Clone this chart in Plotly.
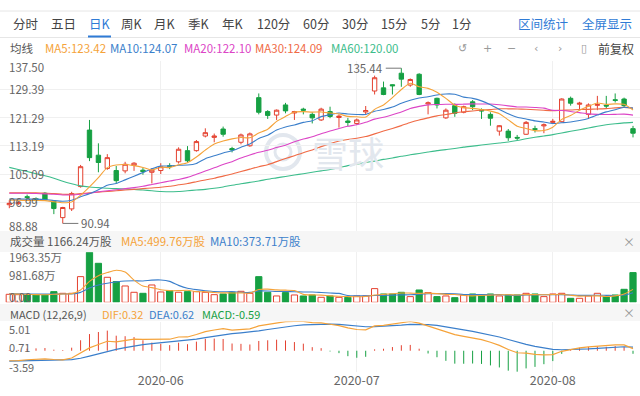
import plotly.graph_objects as go

# ---------------- data ----------------
dates_idx = list(range(71))
month_ticks = [17, 39, 61]
month_labels = ["2020-06", "2020-07", "2020-08"]

opens = [96.3, 96.6, 98.6, 98.0, 99.6, 97.3, 92.6, 95.1, 101.5, 117.7,
         110.5, 106.7, 106.1, 106.0, 107.6, 106.2, 105.6, 106.1, 107.5, 108.6,
         111.8, 111.8, 116.0, 115.6, 118.0, 112.4, 114.2, 113.2, 127.0, 123.0,
         122.0, 124.9, 122.6, 123.7, 122.2, 120.6, 123.0, 121.3, 120.3, 119.6,
         122.9, 128.9, 129.8, 130.7, 134.0, 130.6, 133.7, 125.2, 126.8, 121.2,
         124.7, 122.8, 125.8, 123.5, 122.2, 117.4, 117.4, 115.6, 116.5, 118.1,
         118.9, 119.9, 120.1, 126.8, 125.1, 122.2, 124.8, 124.8, 126.4, 126.6,
         118.1]
highs = [97.6, 97.5, 99.2, 98.4, 99.9, 97.6, 95.7, 100.0, 107.7, 120.6,
         113.9, 110.8, 107.4, 108.6, 108.5, 106.8, 106.8, 108.2, 108.2, 112.75,
         113.1, 114.85, 118.2, 116.7, 118.7, 112.9, 116.7, 117.0, 128.2, 123.4,
         123.6, 125.5, 123.2, 124.1, 122.8, 124.1, 124.4, 122.2, 121.2, 121.0,
         124.6, 133.3, 131.6, 130.8, 135.44, 132.5, 134.0, 125.9, 127.0, 123.9,
         125.35, 124.7, 126.3, 123.9, 122.8, 119.1, 118.0, 116.3, 120.3, 118.95,
         119.6, 120.9, 126.8, 127.3, 125.8, 125.35, 127.5, 127.5, 128.2, 127.0,
         118.9]
lows = [95.3, 96.2, 97.8, 97.2, 97.4, 93.6, 90.94, 94.5, 101.2, 108.8,
        105.6, 106.3, 102.4, 105.3, 106.0, 104.9, 102.4, 105.1, 106.5, 108.1,
        108.4, 111.5, 115.6, 114.2, 115.8, 111.3, 113.6, 112.9, 122.2, 120.9,
        120.6, 122.5, 120.6, 122.2, 119.6, 120.3, 121.1, 118.4, 118.8, 119.2,
        122.0, 127.9, 127.7, 127.9, 130.1, 130.1, 127.7, 122.2, 123.9, 120.9,
        121.5, 122.5, 123.4, 120.9, 118.95, 116.1, 114.6, 114.8, 116.3, 117.0,
        116.8, 119.6, 119.9, 124.7, 123.4, 120.9, 123.4, 123.9, 125.6, 124.1,
        115.6]
closes = [96.7, 96.9, 98.4, 97.6, 97.7, 95.2, 95.5, 99.5, 107.2, 109.8,
          108.4, 109.8, 103.2, 107.9, 108.2, 105.8, 106.2, 107.2, 107.3, 112.2,
          108.9, 114.4, 116.95, 116.0, 116.5, 112.0, 116.3, 116.6, 122.8, 121.9,
          123.4, 123.2, 123.0, 123.4, 121.2, 123.7, 121.6, 121.7, 119.9, 120.6,
          123.3, 132.7, 127.9, 130.4, 132.3, 132.2, 127.9, 125.5, 124.9, 123.4,
          122.5, 124.4, 124.4, 123.2, 121.1, 118.95, 115.5, 115.4, 119.9, 117.9,
          119.2, 120.2, 126.6, 125.4, 125.4, 124.9, 125.0, 124.6, 126.2, 124.7,
          116.8]
# volume, 万股
volumes = [314, 300, 288, 288, 288, 419, 353, 353, 1008, 1963.35,
           1531, 982, 812, 641, 393, 353, 680, 406, 458, 393,
           419, 419, 393, 300, 327, 393, 432, 353, 1008, 393,
           249, 380, 288, 249, 288, 196, 249, 196, 196, 249,
           249, 537, 327, 327, 393, 223, 484, 380, 223, 249,
           183, 288, 327, 288, 327, 249, 288, 288, 353, 327,
           223, 327, 353, 157, 157, 249, 353, 223, 288, 510,
           1166.24]

# moving-average values at the left edge (window reaches before the visible range)
ma5_head = [97.6, 97.6, 97.5, 97.5]
ma10_head = [97.9, 97.9, 97.9, 97.9, 97.8, 97.5, 97.3, 97.6, 98.6]
ma20_head = [99.6, 99.6, 99.6, 99.5, 99.4, 99.3, 99.1, 99.1, 99.3, 99.6,
             100.0, 100.3, 100.6, 100.9, 101.2, 101.6, 102.1, 102.6, 103.1]
ma30_head = [99.7, 99.7, 99.7, 99.7, 99.6, 99.5, 99.3, 99.3, 99.5, 99.7,
             99.9, 100.1, 100.3, 100.5, 100.7, 100.9, 101.1, 101.3, 101.6, 102.0,
             102.4, 102.9, 103.4, 103.9, 104.5, 105.1, 105.8, 106.5, 107.2]
ma60_head = [107.0, 106.4, 105.8, 105.2, 104.6, 103.9, 103.0, 102.3, 101.7, 101.4,
             101.2, 101.0, 100.9, 100.8, 100.7, 100.5, 100.3, 100.1, 100.0, 100.1,
             100.3, 100.5, 100.7, 101.0, 101.4, 101.9, 102.3, 102.7, 103.1, 103.6,
             104.0, 104.4, 104.8, 105.2, 105.6, 106.0, 106.4, 106.9, 107.5, 107.9,
             108.4, 108.8, 109.3, 109.7, 110.2, 110.6, 111.0, 111.4, 111.8, 112.1,
             112.4, 112.8, 113.1, 113.4, 113.7, 114.0, 114.3, 114.7, 115.2]
vma5_head = [330, 320, 310, 300]
vma10_head = [340, 335, 330, 325, 320, 320, 325, 330, 390]
# MACD state just before the first visible day
ema12_prev, ema26_prev, dea_prev = 98.5, 100.2, -1.8

price_ticks = [88.88, 96.99, 105.09, 113.19, 121.29, 129.39, 137.50]
price_tick_text = ["88.88", "96.99", "105.09", "113.19", "121.29", "129.39", "137.50"]
vol_ticks = [0, 981.68, 1963.35]
vol_tick_text = ["0.00", "981.68万", "1963.35万"]
macd_ticks = [-3.59, 0.71, 5.01]
macd_tick_text = ["-3.59", "0.71", "5.01"]

ma_legend = ["MA5:123.42", "MA10:124.07", "MA20:122.10", "MA30:124.09", "MA60:120.00"]
vol_legend = ["成交量 1166.24万股", "MA5:499.76万股", "MA10:373.71万股"]
macd_legend = ["MACD (12,26,9)", "DIF:0.32", "DEA:0.62", "MACD:-0.59"]

tabs = ["分时", "五日", "日K", "周K", "月K", "季K", "年K", "120分", "60分", "30分", "15分", "5分", "1分"]
tab_x = [26, 63, 99.5, 132, 165, 199, 233, 273, 316, 355, 394, 430, 461]

# ---------------- derived series ----------------
def moving(vals, n, head):
    out = list(head)
    for i in range(len(head), len(vals)):
        out.append(sum(vals[i - n + 1:i + 1]) / n)
    return out

ma5 = moving(closes, 5, ma5_head)
ma10 = moving(closes, 10, ma10_head)
ma20 = moving(closes, 20, ma20_head)
ma30 = moving(closes, 30, ma30_head)
ma60 = moving(closes, 60, ma60_head)
vma5 = moving(volumes, 5, vma5_head)
vma10 = moving(volumes, 10, vma10_head)

dif, dea, hist = [], [], []
e12, e26, d9 = ema12_prev, ema26_prev, dea_prev
for c in closes:
    e12 = e12 * 11 / 13 + c * 2 / 13
    e26 = e26 * 25 / 27 + c * 2 / 27
    d = e12 - e26
    d9 = d9 * 8 / 10 + d * 2 / 10
    dif.append(d)
    dea.append(d9)
    hist.append(2 * (d - d9))

# ---------------- style ----------------
W, H = 640, 396
RED = "#e4402f"
GREEN = "#16a043"
C_MA5 = "#f5a33a"
C_MA10 = "#3b7fcb"
C_MA20 = "#dc45c6"
C_MA30 = "#f06a45"
C_MA60 = "#3dbd8c"
GRID = "#f0f0f0"
TXT = "#666666"
FONT = "Noto Sans CJK SC"

def px(x):
    return x / W

def py(y):
    return 1 - y / H

STEP = 8.91
X0 = 9.3
XMIN = -X0 / STEP
XMAX = (W - X0) / STEP

price_dom = [py(230.6), py(61.0)]
vol_dom = [py(302.3), py(252.3)]
macd_dom = [py(371.7), py(321.5)]

fig = go.Figure()

up = [c >= o for o, c in zip(opens, closes)]

fig.add_trace(go.Candlestick(
    x=dates_idx, open=opens, high=highs, low=lows, close=closes,
    increasing=dict(line=dict(color=RED, width=1), fillcolor="white"),
    decreasing=dict(line=dict(color=GREEN, width=1), fillcolor=GREEN),
    whiskerwidth=0, xaxis="x", yaxis="y", hoverinfo="skip"))

for vals, col in [(ma60, C_MA60), (ma30, C_MA30), (ma20, C_MA20), (ma10, C_MA10), (ma5, C_MA5)]:
    fig.add_trace(go.Scatter(x=dates_idx, y=vals, mode="lines",
                             line=dict(color=col, width=1.1, shape="spline", smoothing=0.6),
                             xaxis="x", yaxis="y", hoverinfo="skip"))

fig.add_trace(go.Bar(
    x=dates_idx, y=volumes, width=0.7,
    marker=dict(color=["white" if u else GREEN for u in up],
                line=dict(color=[RED if u else GREEN for u in up], width=1)),
    xaxis="x2", yaxis="y2", hoverinfo="skip"))
for vals, col in [(vma10, C_MA10), (vma5, C_MA5)]:
    fig.add_trace(go.Scatter(x=dates_idx, y=vals, mode="lines",
                             line=dict(color=col, width=1.1, shape="spline", smoothing=0.6),
                             xaxis="x2", yaxis="y2", hoverinfo="skip"))

# MACD histogram as thin sticks
for sign, col in [(1, RED), (-1, GREEN)]:
    xs, ys = [], []
    for i, h in zip(dates_idx, hist):
        if (h >= 0) == (sign > 0):
            xs += [i, i, None]
            ys += [0, h if abs(h) > 0.12 else 0.12 * sign, None]
    fig.add_trace(go.Scatter(x=xs, y=ys, mode="lines", line=dict(color=col, width=1),
                             xaxis="x3", yaxis="y3", hoverinfo="skip"))
fig.add_trace(go.Scatter(x=dates_idx, y=dea, mode="lines", line=dict(color=C_MA10, width=1.2),
                         xaxis="x3", yaxis="y3", hoverinfo="skip"))
fig.add_trace(go.Scatter(x=dates_idx, y=dif, mode="lines", line=dict(color=C_MA5, width=1.2),
                         xaxis="x3", yaxis="y3", hoverinfo="skip"))

# ---------------- layout ----------------
xcommon = dict(range=[XMIN, XMAX], domain=[0, 1], tickvals=month_ticks, showgrid=True,
               gridcolor=GRID, zeroline=False, showline=False, ticks="", fixedrange=True)
fig.update_layout(
    width=W, height=H, margin=dict(l=0, r=0, t=0, b=0, pad=0),
    paper_bgcolor="white", plot_bgcolor="white", showlegend=False,
    font=dict(family=FONT, color=TXT, size=12),
    xaxis=dict(**xcommon, anchor="y", showticklabels=False, rangeslider=dict(visible=False)),
    xaxis2=dict(**xcommon, anchor="y2", showticklabels=False, matches="x"),
    xaxis3=dict(**xcommon, anchor="y3", showticklabels=True, ticktext=month_labels,
                tickfont=dict(size=12.5, color=TXT, family=FONT), matches="x"),
    yaxis=dict(domain=price_dom, range=[price_ticks[0], price_ticks[-1]], tickvals=price_ticks,
               showticklabels=False, showgrid=True, gridcolor=GRID, zeroline=False, fixedrange=True),
    yaxis2=dict(domain=vol_dom, range=[vol_ticks[0], vol_ticks[-1]], showticklabels=False,
                showgrid=False, zeroline=False, fixedrange=True),
    yaxis3=dict(domain=macd_dom, range=[macd_ticks[0], macd_ticks[-1]], showticklabels=False,
                showgrid=False, zeroline=False, fixedrange=True),
    bargap=0.3, boxgap=0.3,
)

shapes = []
ann = []

def text(x, y, s, color=TXT, size=12, anchor="left", family=FONT):
    ann.append(dict(x=px(x), y=py(y), xref="paper", yref="paper", text=s, showarrow=False,
                    xanchor=anchor, yanchor="middle", font=dict(color=color, size=size, family=family)))

# tab bar
shapes.append(dict(type="line", xref="paper", yref="paper", x0=0, x1=1, y0=py(11), y1=py(11),
                   line=dict(color="#e6e6e6", width=1)))
shapes.append(dict(type="line", xref="paper", yref="paper", x0=0, x1=1, y0=py(37.5), y1=py(37.5),
                   line=dict(color="#e6e6e6", width=1)))
for t, x in zip(tabs, tab_x):
    text(x, 24, t, color="#2f7bd6" if t == "日K" else "#444444", size=12.5, anchor="center")
shapes.append(dict(type="line", xref="paper", yref="paper", x0=px(88), x1=px(111), y0=py(36.5), y1=py(36.5),
                   line=dict(color="#2f7bd6", width=2)))
text(543, 24, "区间统计", color="#2f7bd6", size=12.5, anchor="center")
text(607, 24, "全屏显示", color="#2f7bd6", size=12.5, anchor="center")

# MA legend row
text(8, 48, "均线", color="#555555", size=11.5)
for s, x, col in zip(ma_legend, [43, 108, 182, 253, 329], [C_MA5, C_MA10, C_MA20, C_MA30, C_MA60]):
    text(x, 48, s, color=col, size=11.5)
for x, s in zip([462, 487, 511, 536, 560, 584], ["↺", "+", "−", "‹", "›", "▯"]):
    text(x, 48, s, color="#9a9a9a", size=11, anchor="center", family="DejaVu Sans")
text(616, 48, "前复权", color="#444444", size=12, anchor="center")

# header bands
for y0, y1 in [(231, 252), (304, 321)]:
    shapes.append(dict(type="rect", xref="paper", yref="paper", x0=0, x1=1, y0=py(y1), y1=py(y0),
                       fillcolor="#f6f6f6", line=dict(width=0), layer="below"))
for s, x, col in zip(vol_legend, [8, 119, 208], ["#555555", C_MA5, C_MA10]):
    text(x, 241, s, color=col, size=11.5)
text(629, 241, "×", color="#999999", size=12, anchor="center")
for s, x, col in zip(macd_legend, [8, 100, 147, 200], ["#555555", C_MA5, C_MA10, GREEN]):
    text(x, 313.5, s, color=col, size=11)
text(629, 312, "×", color="#999999", size=12, anchor="center")

# axis value labels (kept inside panels)
price_label_y = [226, 201.9, 173.8, 145.6, 117.5, 89.2, 66.7]
for s, y in zip(price_tick_text, price_label_y):
    text(7, y, s, size=11.5)
for s, y in zip(vol_tick_text, [297, 275, 257]):
    text(7, y, s, size=11.5)
for s, y in zip(macd_tick_text, [366.7, 346.7, 328.5]):
    text(7, y, s, size=11)

# max / min markers
imax = max(dates_idx, key=lambda i: highs[i])
imin = min(dates_idx, key=lambda i: lows[i])
shapes.append(dict(type="line", xref="x", yref="y", x0=imax, x1=imax - 1.75, y0=highs[imax], y1=highs[imax],
                   line=dict(color="#777777", width=1)))
ann.append(dict(x=imax - 1.85, y=highs[imax], xref="x", yref="y", text=f"{highs[imax]:.2f}", showarrow=False,
                xanchor="right", yanchor="middle", font=dict(color=TXT, size=11.5, family=FONT)))
shapes.append(dict(type="line", xref="x", yref="y", x0=imin, x1=imin + 1.75, y0=lows[imin], y1=lows[imin],
                   line=dict(color="#777777", width=1)))
ann.append(dict(x=imin + 1.85, y=lows[imin], xref="x", yref="y", text=f"{lows[imin]:.2f}", showarrow=False,
                xanchor="left", yanchor="middle", font=dict(color=TXT, size=11.5, family=FONT)))

# watermark
shapes.append(dict(type="circle", xref="paper", yref="paper", x0=px(266), x1=px(300), y0=py(169), y1=py(135),
                   line=dict(color="#e2e7ee", width=4), layer="below"))
shapes.append(dict(type="circle", xref="paper", yref="paper", x0=px(275), x1=px(291), y0=py(160), y1=py(144),
                   line=dict(color="#e2e7ee", width=3), layer="below"))
ann.append(dict(x=px(348), y=py(152), xref="paper", yref="paper", text="雪球", showarrow=False,
                xanchor="center", yanchor="middle", font=dict(color="#e2e7ee", size=36, family=FONT)))

fig.update_layout(shapes=shapes, annotations=ann)
fig.write_html("out.html", config={"displayModeBar": False, "staticPlot": True},
               post_script="document.body.style.margin='0px';document.body.style.overflow='hidden';")
